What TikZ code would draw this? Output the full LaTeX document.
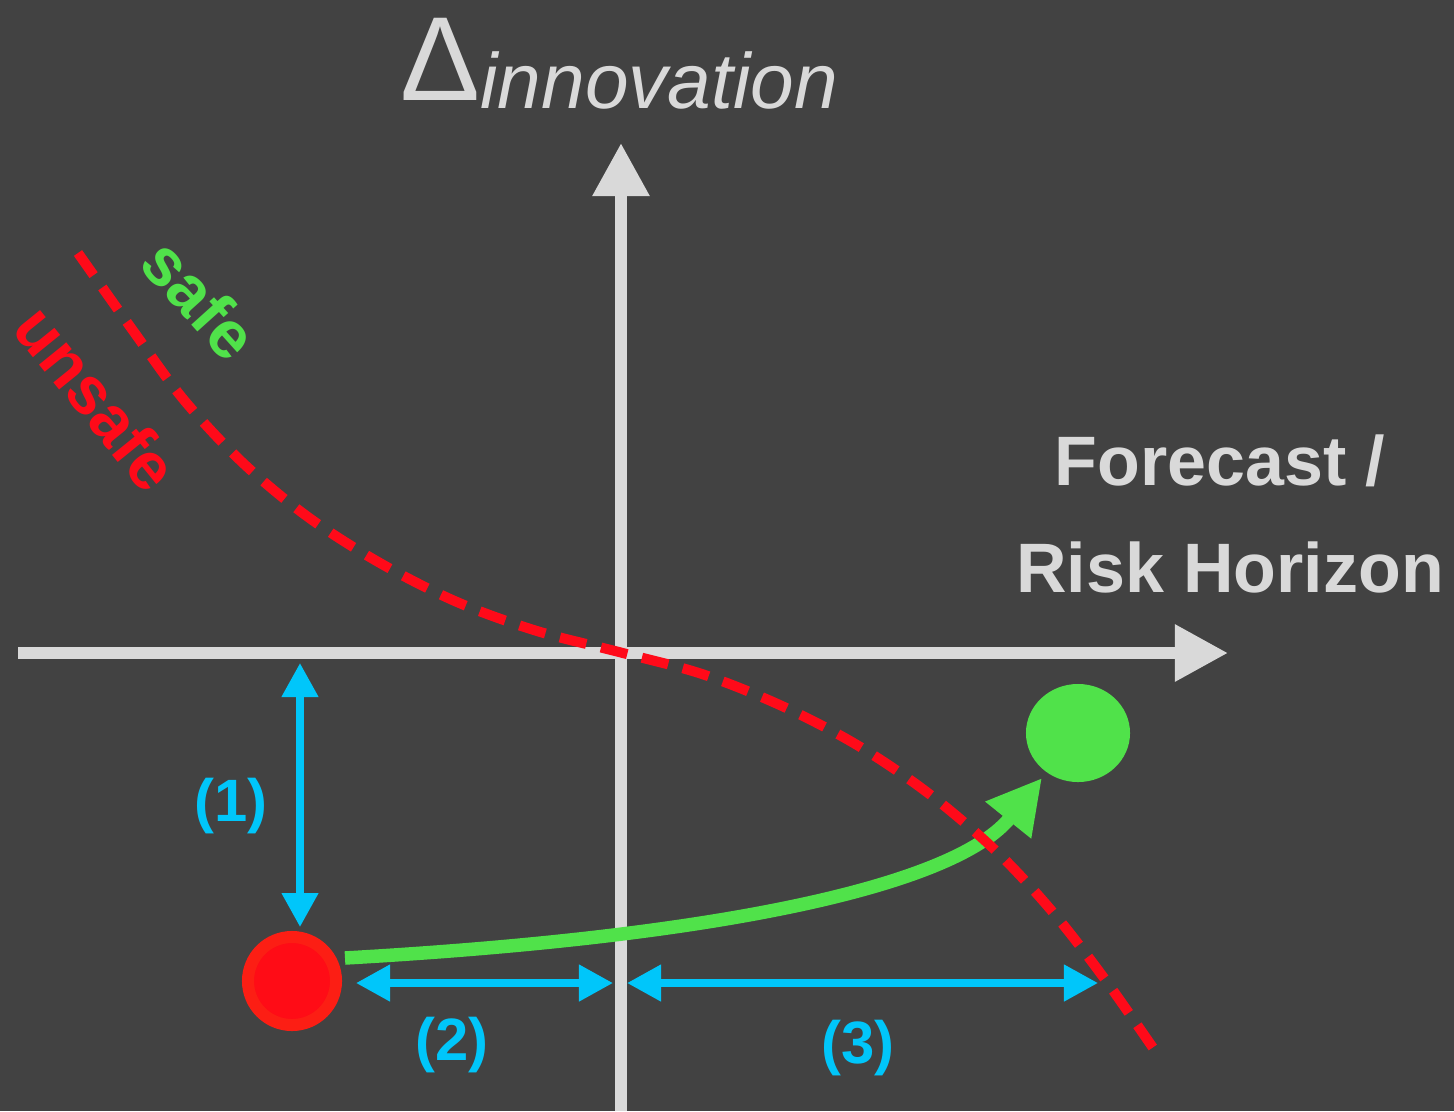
\documentclass[tikz,border=0pt]{standalone}
\usepackage{fontspec}
\setmainfont{Liberation Sans}
\usetikzlibrary{arrows.meta,shapes.geometric}
\definecolor{bg}{RGB}{66,66,66}
\definecolor{axisgray}{RGB}{217,217,217}
\definecolor{cblue}{RGB}{0,198,250}
\definecolor{cgreen}{RGB}{80,226,74}
\definecolor{cred}{RGB}{255,10,25}
\definecolor{ringred}{RGB}{252,30,20}
\definecolor{innerred}{RGB}{255,12,22}
\begin{document}
\begin{tikzpicture}[x=0.01cm,y=-0.01cm,
  axisline/.style={draw=axisgray,line width=0.12cm,-{Triangle[length=0.53cm,width=0.54cm]}},
  measure/.style={draw=cblue,line width=0.075cm,{Triangle[length=0.34cm,width=0.35cm]}-{Triangle[length=0.34cm,width=0.35cm]}},
  measlabel/.style={text=cblue,inner sep=0,font=\fontsize{17pt}{20pt}\selectfont\bfseries},
  reddash/.style={draw=cred,line width=0.1cm,dash pattern=on 7.7pt off 4.3pt},
  pathway/.style={draw=cgreen,line width=0.135cm,-{Triangle[length=0.54cm,width=0.55cm]}},
  zonelabel/.style={inner sep=0,font=\fontsize{19pt}{22pt}\selectfont\bfseries},
  axislabel/.style={text=axisgray,inner sep=0,font=\fontsize{19.9pt}{24pt}\selectfont\bfseries}
]
\useasboundingbox (0,0) rectangle (1454,1111);
\fill[bg] (0,0) rectangle (1454,1111);

% axes
\coordinate (xl) at (18,653);
\coordinate (xr) at (1228,653);
\coordinate (yb) at (621,1111);
\coordinate (yt) at (621,143);
\draw[axisline] (xl) -- (xr);
\draw[axisline] (yb) -- (yt);

% axis labels
\node[text=axisgray,inner sep=0,anchor=base west] (ytitle) at (400,100)
  {\fontsize{34pt}{40pt}\selectfont Δ\raisebox{-0.08cm}{\fontsize{22.3pt}{27pt}\selectfont\itshape innovation}};
\node[axislabel,anchor=base] (xt1) at (1220,485) {Forecast /};
\node[axislabel,anchor=base] (xt2) at (1230,592) {Risk Horizon};

% zone labels
\node[zonelabel,text=cgreen,rotate=-48] (safe) at (200,299) {safe};
\node[zonelabel,text=cred,rotate=-51] (unsafe) at (97,398) {unsafe};

% measures
\coordinate (m1a) at (300,663);
\coordinate (m1b) at (300,927);
\coordinate (m2a) at (356,983);
\coordinate (m2b) at (613,983);
\coordinate (m3a) at (627,983);
\coordinate (m3b) at (1098,983);
\draw[measure] (m1a) -- (m1b);
\draw[measure] (m2a) -- (m2b);
\draw[measure] (m3a) -- (m3b);
\node[measlabel] (l1) at (231,806) {(1)};
\node[measlabel] (l2) at (452,1045) {(2)};
\node[measlabel] (l3) at (858,1048) {(3)};

% states
\node[circle,fill=innerred,draw=ringred,line width=0.12cm,minimum size=0.88cm,inner sep=0] (start) at (292,981) {};
\node[ellipse,fill=cgreen,minimum width=1.04cm,minimum height=0.98cm,inner sep=0] (goal) at (1078,733) {};

% pathway
\coordinate (gstart) at (345,958);
\coordinate (gend) at (1042,778);
\draw[pathway] (gstart) .. controls (750,935) and (960,880) .. (gend);

% boundary
\draw[reddash] plot[smooth,tension=0.55] coordinates {(78,253) (134,332) (184,400) (243,463) (308,517) (380,563) (457,602) (537,631) (619,652) (702,674) (782,706) (857,745) (928,793) (995,850) (1051,910) (1104,978) (1160,1058)};
\end{tikzpicture}
\end{document}
